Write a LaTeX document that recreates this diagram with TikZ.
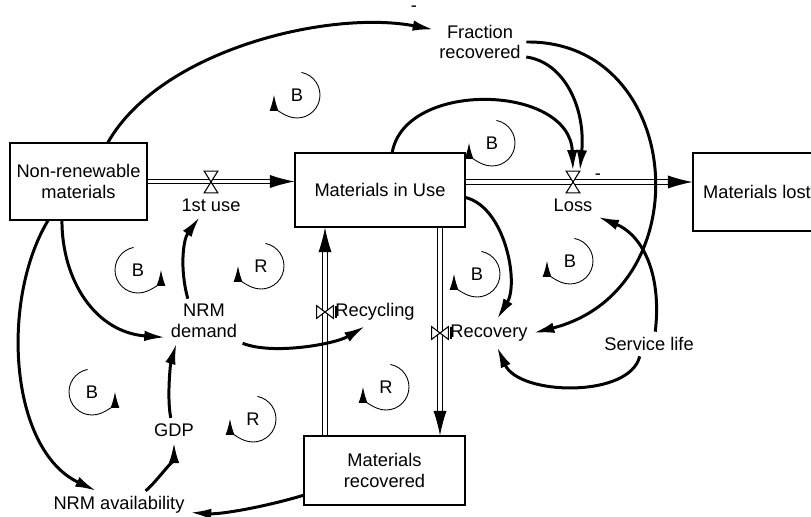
\documentclass[tikz,border=0pt]{standalone}
\usepackage{fontspec}
\setmainfont{Liberation Sans}
\usetikzlibrary{arrows.meta,positioning}

\tikzset{
    every node/.style={font=\fontsize{10.4}{11.7}\selectfont},
    stock/.style={draw, line width=0.6pt, align=center, inner sep=2pt},
    var/.style={align=center, inner sep=3pt},
    valve/.style={inner sep=0pt, minimum width=0.26cm, minimum height=0.42cm},
    valvev/.style={inner sep=0pt, minimum width=0.32cm, minimum height=0.24cm},
    valvebody/.style={draw, fill=white, line width=0.6pt},
    pipe/.style={double, double distance=2pt, line width=0.5pt, -{Latex[length=14pt,width=7.5pt]}},
    conn/.style={line width=1.7pt, -{Latex[length=12pt,width=6pt]}},
    loopline/.style={line width=0.5pt, -{Latex[length=9pt,width=5pt]}},
    looplabel/.style={inner sep=0pt},
    sign/.style={inner sep=0pt},
}

\begin{document}
\begin{tikzpicture}[x=0.02cm, y=-0.02cm]
                \useasboundingbox (0,0) rectangle (811,517);

                % stocks
                \node (nre) [stock, minimum width=2.74cm, minimum height=1.54cm] at (78.5,181.5) {Non-renewable\\materials};
                \node (miu) [stock, minimum width=3.4cm, minimum height=1.48cm] at (380,190) {Materials in Use};
                \node (lost) [stock, minimum width=2.56cm, minimum height=1.56cm] at (757,192) {Materials lost};
                \node (rec) [stock, minimum width=3.22cm, minimum height=1.38cm] at (384.5,470.5) {Materials\\recovered};

                % valves
                \node (vuse) [valve] at (211,182) {};
                \node (vloss) [valve] at (573,182) {};
                \node (vrecy) [valvev] at (325,312) {};
                \node (vrecov) [valvev] at (440,333) {};

                \node (use) [var, below=0pt of vuse] {1st use};
                \node (loss) [var, below=0pt of vloss] {Loss};
                \node (recy) [var, right=-2pt of vrecy] {Recycling};
                \node (recov) [var, right=-2pt of vrecov] {Recovery};

                \node (frac) [var] at (480,42) {Fraction\\recovered};
                \node (demand) [var] at (204,321) {NRM\\demand};
                \node (gdp) [var] at (174,430) {GDP};
                \node (avail) [var] at (119,505) {NRM availability};
                \node (serv) [var] at (649,344) {Service life};

                % flows
                \draw [pipe] (nre.east) -- (nre.east -| miu.west);
                \draw [pipe] (vloss -| miu.east) -- (vloss -| lost.west);
                \draw [pipe] (rec.north -| vrecy) -- (miu.south -| vrecy);
                \draw [pipe] (miu.south -| vrecov) -- (rec.north -| vrecov);

                \draw [valvebody] (vuse.north west) -- (vuse.north east) -- (vuse.south west) -- (vuse.south east) -- cycle;
                \draw [valvebody] (vloss.north west) -- (vloss.north east) -- (vloss.south west) -- (vloss.south east) -- cycle;
                \draw [valvebody] (vrecy.north west) -- (vrecy.south west) -- (vrecy.north east) -- (vrecy.south east) -- cycle;
                \draw [line width=0.6pt] ([xshift=1.5pt]vrecy.north east) -- ([xshift=1.5pt]vrecy.south east);
                \draw [valvebody] (vrecov.north west) -- (vrecov.south west) -- (vrecov.north east) -- (vrecov.south east) -- cycle;
                \draw [line width=0.6pt] ([xshift=1.5pt]vrecov.north east) -- ([xshift=1.5pt]vrecov.south east);

                % links
                \draw [conn] (nre.53) .. controls +(53,-93) and +(-104,-20) .. (frac.165);
                \draw [conn] (frac.-18) .. controls +(38,5) and +(6,-63) .. (vloss.north east);
                \draw [conn] (miu.72) .. controls +(13,-73) and +(-3,-87) .. (vloss.north);
                \draw [conn] (frac.east) .. controls +(158,-2) and +(170,-43) .. (recov.east);
                \draw [conn] (miu.-5) .. controls +(40,10) and +(22,-36) .. (recov.60);
                \draw [conn] (serv.63) .. controls +(7,-62) and +(42,17) .. (loss.south east);
                \draw [conn] (serv.-127) .. controls +(-10,42) and +(22,49) .. (recov.-60);
                \draw [conn] (demand.126) .. controls +(-8,-29) and +(-17,23) .. (use.-133);
                \draw [conn] (nre.-113) .. controls +(0,60) and +(-70,-5) .. (demand.-157);
                \draw [conn] (nre.-128) .. controls +(-48,80) and +(-87,-41) .. (avail.148);
                \draw [conn] (avail.28) .. controls +(10,-8) and +(0,15) .. (gdp.south);
                \draw [conn] (gdp.105) .. controls +(-4,-20) and +(-6,20) .. (demand.-141);
                \draw [conn] (demand.south east) .. controls +(30,12) and +(-30,18) .. (recy.-125);
                \draw [conn] (rec.-163) .. controls +(-40,12) and +(30,2) .. (avail.-6);

                \node (minus1) [sign] at (414,9) {-};
                \node (minus2) [sign] at (598,177) {-};

                % loop markers
                \node (b1) [looplabel] at (297,95) {B};
                \draw [loopline] (b1.center) ++(79:0.46cm) arc [start angle=79, end angle=-180, radius=0.46cm];
                \node (b2) [looplabel] at (492,143) {B};
                \draw [loopline] (b2.center) ++(79:0.46cm) arc [start angle=79, end angle=-180, radius=0.46cm];
                \node (b3) [looplabel] at (138,270) {B};
                \draw [loopline] (b3.center) ++(101:0.46cm) arc [start angle=101, end angle=360, radius=0.46cm];
                \node (r1) [looplabel] at (261,266) {R};
                \draw [loopline] (r1.center) ++(79:0.46cm) arc [start angle=79, end angle=-180, radius=0.46cm];
                \node (b4) [looplabel] at (92,392) {B};
                \draw [loopline] (b4.center) ++(101:0.46cm) arc [start angle=101, end angle=360, radius=0.46cm];
                \node (r2) [looplabel] at (253,419) {R};
                \draw [loopline] (r2.center) ++(79:0.46cm) arc [start angle=79, end angle=-180, radius=0.46cm];
                \node (r3) [looplabel] at (386,387) {R};
                \draw [loopline] (r3.center) ++(79:0.46cm) arc [start angle=79, end angle=-180, radius=0.46cm];
                \node (b5) [looplabel] at (477,274) {B};
                \draw [loopline] (b5.center) ++(79:0.46cm) arc [start angle=79, end angle=-180, radius=0.46cm];
                \node (b6) [looplabel] at (570,261) {B};
                \draw [loopline] (b6.center) ++(79:0.46cm) arc [start angle=79, end angle=-180, radius=0.46cm];
\end{tikzpicture}
\end{document}
